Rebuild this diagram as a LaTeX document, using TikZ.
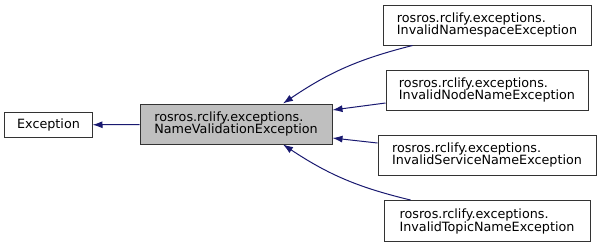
\documentclass[tikz,border=0pt]{standalone}
\usepackage{fontspec}
\setmainfont{DejaVu Sans}
\usepackage{tikz}
\usetikzlibrary{shapes, arrows.meta}
\usepackage[dvipsnames]{xcolor}

\definecolor{edgeblue}{RGB}{25,25,112}
\definecolor{boxgray}{RGB}{191,191,191}

\begin{document}
\begin{tikzpicture}[x=1bp, y=-1bp,
    cls/.style={draw=black!80, fill=white, align=left, inner sep=0pt,
                line width=1bp, minimum height=40bp,
                font=\fontsize{12.8}{13}\selectfont},
    edge/.style={draw=edgeblue, -{Latex[length=10bp, width=7bp]}, line width=1bp}]
    \useasboundingbox (0,0) rectangle (601,248);

    % 1. Base classes on the left
    \node[cls, minimum width=87bp, minimum height=25bp] (exc) at (48.5,125) {Exception};
    \node[cls, fill=boxgray, minimum width=192bp] (nve) at (236,124)
        {rosros.rclify.exceptions.\\NameValidationException};

    % 2. Derived exceptions, stacked on the right
    \node[cls, minimum width=208bp] (ns) at (487,25)
        {rosros.rclify.exceptions.\\InvalidNamespaceException};
    \node[cls, minimum width=202bp] (nn) at (487,90)
        {rosros.rclify.exceptions.\\InvalidNodeNameException};
    \node[cls, minimum width=218bp] (sv) at (487,155)
        {rosros.rclify.exceptions.\\InvalidServiceNameException};
    \node[cls, minimum width=206bp, minimum height=41bp] (tp) at (487,221)
        {rosros.rclify.exceptions.\\InvalidTopicNameException};

    % 3. Inheritance arrows point at the parent
    \draw[edge] (nve) -- (exc);
    \draw[edge] ([xshift=30bp]ns.south west) to[bend right=10] ([xshift=47bp]nve.north);
    \draw[edge] ([yshift=-13bp]nn.west) -- ([yshift=14bp]nve.east);
    \draw[edge] ([yshift=12bp]sv.west) -- ([yshift=-14bp]nve.east);
    \draw[edge] ([xshift=27bp]tp.north west) to[bend left=10] ([xshift=47bp]nve.south);

\end{tikzpicture}
\end{document}
